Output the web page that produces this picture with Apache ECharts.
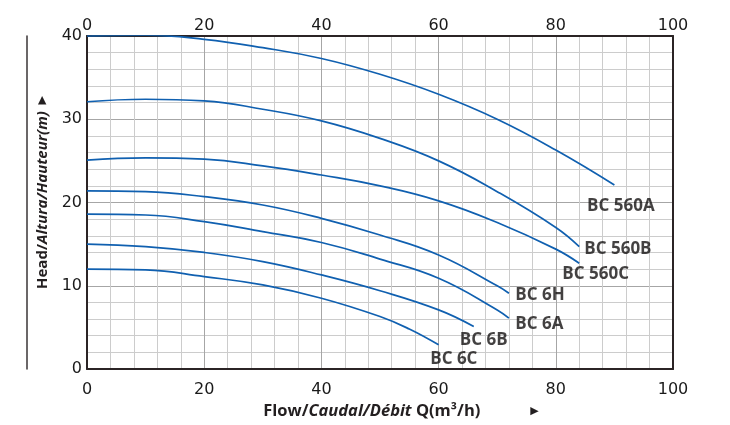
<!DOCTYPE html>
<html>
<head>
<meta charset="utf-8">
<script src="https://cdn.jsdelivr.net/npm/echarts@6/dist/echarts.min.js"></script>
<style>html,body{margin:0;padding:0;background:#fff;overflow:hidden}#c{width:730px;height:425px}</style>
</head>
<body>
<div id="c"></div>
<script>
// Pump curves: flow (m3/h) and head (m)
const flowA = [0, 10, 20, 30, 40, 50, 60, 70, 80, 90];
const headA = [40.0, 40.1, 39.6, 38.6, 37.3, 35.4, 33.0, 30.0, 26.3, 22.1];
const flowB = [0, 10, 20, 30, 40, 50, 60, 70, 80, 84];
const headB = [32.1, 32.4, 32.2, 31.2, 29.8, 27.7, 25.0, 21.3, 17.0, 14.7];
const flowC = [0, 10, 20, 30, 40, 50, 60, 70, 80, 84];
const headC = [25.1, 25.35, 25.2, 24.4, 23.3, 22.0, 20.2, 17.6, 14.4, 12.7];
const flow6H = [0, 10, 20, 30, 40, 50, 60, 70, 72];
const head6H = [21.4, 21.3, 20.7, 19.7, 18.1, 16.1, 13.7, 10.0, 9.1];
const flow6A = [0, 10, 20, 30, 40, 50, 60, 70, 72];
const head6A = [18.6, 18.5, 17.7, 16.5, 15.2, 13.2, 10.9, 7.1, 6.1];
const flow6B = [0, 10, 20, 30, 40, 50, 60, 66];
const head6B = [15.0, 14.7, 14.0, 12.9, 11.3, 9.4, 7.1, 5.1];
const flow6C = [0, 10, 20, 30, 40, 50, 55, 60];
const head6C = [12.0, 11.9, 11.1, 10.1, 8.5, 6.3, 4.8, 2.9];

const seriesNames = ['BC 560A', 'BC 560B', 'BC 560C', 'BC 6H', 'BC 6A', 'BC 6B', 'BC 6C'];
const seriesFlows = [flowA, flowB, flowC, flow6H, flow6A, flow6B, flow6C];
const seriesHeads = [headA, headB, headC, head6H, head6A, head6B, head6C];

// Curve label anchor positions (data units)
const labelFlow = [91.1, 90.6, 86.8, 77.3, 77.2, 67.7, 62.6];
const labelHead = [19.6, 14.4, 11.4, 8.9, 5.4, 3.5, 1.2];

const xTickMin = 0, xTickMax = 100, xTickInterval = 20;
const yTickMin = 0, yTickMax = 40, yTickInterval = 10;

const chart = echarts.init(document.getElementById('c'), null, {renderer: 'canvas'});

const dark = '#2b2425';
const minorCol = '#cccccc';
const majorCol = '#a6a6a6';
const tickFont = {fontFamily: 'DejaVu Sans', fontSize: 16, color: '#1a1a1a'};

const lineSeries = seriesNames.map((n, i) => ({
  name: n,
  type: 'line',
  smooth: 0.45,
  symbol: 'none',
  lineStyle: {color: '#1060b0', width: 1.7},
  data: seriesFlows[i].map((f, j) => [f, seriesHeads[i][j]]),
  z: 3
}));

const labelSeries = {
  type: 'scatter',
  silent: true,
  symbolSize: 1,
  itemStyle: {color: 'transparent'},
  label: {
    show: true,
    position: 'inside',
    formatter: p => p.name,
    fontFamily: 'Open Sans',
    fontWeight: 'bold',
    fontSize: 17,
    color: '#141112'
  },
  data: seriesNames.map((n, i) => ({name: n, value: [labelFlow[i], labelHead[i]]})),
  z: 4
};

const xRich = {
  b: {fontFamily: 'Open Sans', fontWeight: 'bold', fontSize: 16.5, color: '#231f20'},
  i: {fontFamily: 'Open Sans', fontWeight: 'bold', fontStyle: 'italic', fontSize: 16.5, color: '#231f20'},
  arr: {fontFamily: 'DejaVu Sans', fontSize: 11, color: '#231f20'}
};
const yRich = {
  b: {fontFamily: 'Open Sans', fontWeight: 'bold', fontSize: 15, color: '#231f20'},
  i: {fontFamily: 'Open Sans', fontWeight: 'bold', fontStyle: 'italic', fontSize: 15, color: '#231f20'},
  arr: {fontFamily: 'DejaVu Sans', fontSize: 11, color: '#231f20'}
};

const option = {
  animation: false,
  backgroundColor: '#ffffff',
  grid: {left: 87, right: 57, top: 36, bottom: 54, containLabel: false},
  xAxis: [
    {
      type: 'value', position: 'bottom',
      min: xTickMin, max: xTickMax, interval: xTickInterval,
      axisLine: {show: true, onZero: false, lineStyle: {color: dark, width: 2}},
      axisTick: {show: false},
      axisLabel: Object.assign({margin: 13}, tickFont),
      splitLine: {show: true, lineStyle: {color: majorCol, width: 1}},
      minorTick: {show: false, splitNumber: 5},
      minorSplitLine: {show: true, lineStyle: {color: minorCol, width: 1}},
      name: '{b|Flow/}{i|Caudal/Débit}{b| Q(m³/h)}               {arr|▶}',
      nameLocation: 'middle',
      nameGap: 34,
      nameTextStyle: {rich: xRich, padding: [0, 0, 0, 42]}
    },
    {
      type: 'value', position: 'top',
      min: xTickMin, max: xTickMax, interval: xTickInterval,
      axisLine: {show: true, onZero: false, lineStyle: {color: dark, width: 2}},
      axisTick: {show: false},
      axisLabel: Object.assign({margin: 2}, tickFont),
      splitLine: {show: false}
    }
  ],
  yAxis: [
    {
      type: 'value', position: 'left',
      min: yTickMin, max: yTickMax, interval: yTickInterval,
      axisLine: {show: true, onZero: false, lineStyle: {color: dark, width: 2}},
      axisTick: {show: false},
      axisLabel: Object.assign({margin: 5}, tickFont),
      splitLine: {show: true, lineStyle: {color: majorCol, width: 1}},
      minorTick: {show: false, splitNumber: 5},
      minorSplitLine: {show: true, lineStyle: {color: minorCol, width: 1}},
      name: '{b|Head/}{i|Altura/Hauteur(m)}  {arr|▶}',
      nameLocation: 'middle',
      nameRotate: 90,
      nameGap: 37,
      nameTextStyle: {rich: yRich, padding: [0, 0, 0, 20]}
    },
    {
      type: 'value', position: 'right',
      min: yTickMin, max: yTickMax, interval: yTickInterval,
      axisLine: {show: true, onZero: false, lineStyle: {color: dark, width: 2}},
      axisTick: {show: false},
      axisLabel: {show: false},
      splitLine: {show: false}
    },
    {
      type: 'value', position: 'left', offset: 60,
      min: yTickMin, max: yTickMax, interval: yTickInterval,
      axisLine: {show: true, onZero: false, lineStyle: {color: '#3a3536', width: 1.5}},
      axisTick: {show: false},
      axisLabel: {show: false},
      splitLine: {show: false}
    }
  ],
  series: lineSeries.concat([labelSeries])
};

chart.setOption(option);
</script>
</body>
</html>
